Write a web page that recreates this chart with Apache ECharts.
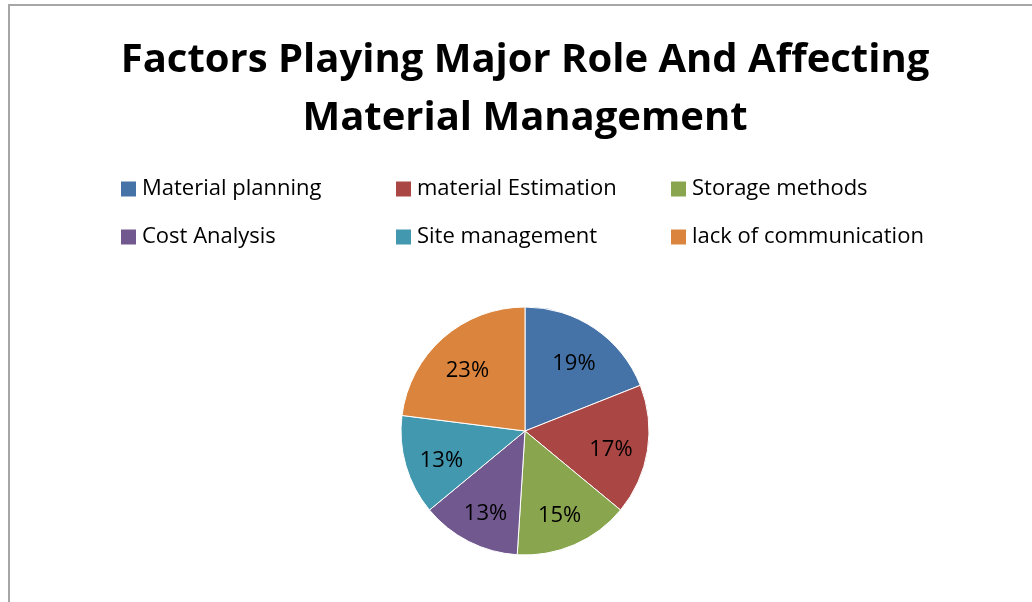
<!DOCTYPE html>
<html>
<head>
<meta charset="utf-8">
<script src="https://cdn.jsdelivr.net/npm/echarts@6/dist/echarts.min.js"></script>
<style>
  html, body { margin: 0; padding: 0; background: #fff; }
  #main { width: 1032px; height: 602px; }
</style>
</head>
<body>
<div id="main"></div>
<script>
var names = ['Material planning', 'material Estimation', 'Storage methods',
             'Cost Analysis', 'Site management', 'lack of communication'];
var values = [19, 17, 15, 13, 13, 23];
var colors = ['#4572A7', '#AA4643', '#89A54E', '#71588F', '#4198AF', '#DB843D'];

var myChart = echarts.init(document.getElementById('main'));

var pieData = names.map(function (n, i) {
    return { name: n, value: values[i] };
});

// legend is laid out in three columns of two rows
function legendCol(left, items) {
    return {
        orient: 'vertical',
        left: left,
        top: 178,
        padding: 0,
        itemWidth: 15,
        itemHeight: 15,
        itemGap: 26,
        icon: 'rect',
        selectedMode: false,
        itemStyle: { borderWidth: 0 },
        textStyle: { fontFamily: 'Open Sans', fontSize: 22, lineHeight: 22, color: '#000', padding: [0, 0, 0, 1] },
        data: items
    };
}

var option = {
    color: colors,
    animation: false,
    title: {
        text: 'Factors Playing Major Role And Affecting\nMaterial Management',
        left: 520,
        textAlign: 'center',
        top: 27,
        textStyle: {
            fontFamily: 'Open Sans',
            fontWeight: 'bold',
            fontSize: 40,
            lineHeight: 58,
            color: '#000'
        }
    },
    legend: [
        legendCol(121, [names[0], names[3]]),
        legendCol(396, [names[1], names[4]]),
        legendCol(671, [names[2], names[5]])
    ],
    graphic: [{
        type: 'polyline',
        shape: { points: [[9, 602], [9, 5], [1032, 5]] },
        style: { stroke: '#a6a6a6', lineWidth: 2, fill: null }
    }],
    series: [{
        type: 'pie',
        center: [525, 431],
        radius: [0, 124],
        startAngle: 90,
        clockwise: true,
        label: { show: false },
        labelLine: { show: false },
        itemStyle: { borderColor: '#fff', borderWidth: 1 },
        data: pieData
    }, {
        // invisible ring only used to place the percentage labels
        type: 'pie',
        center: [525, 431],
        radius: [0, 168],
        startAngle: 90,
        clockwise: true,
        silent: true,
        itemStyle: { color: 'rgba(0,0,0,0)' },
        label: {
            show: true,
            position: 'inside',
            formatter: '{c}%',
            fontFamily: 'Open Sans',
            fontSize: 22,
            offset: [0, 5],
            color: '#000'
        },
        labelLine: { show: false },
        data: pieData
    }]
};

myChart.setOption(option);
</script>
</body>
</html>
